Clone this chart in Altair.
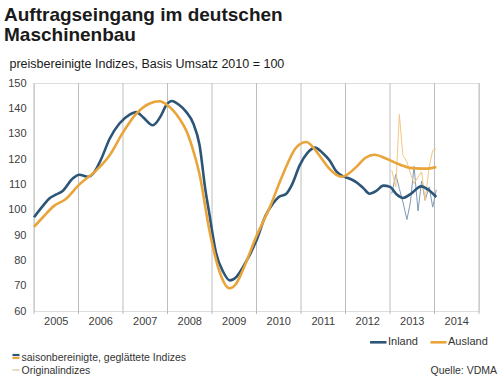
import altair as alt
import pandas as pd

# ---- data ----
inland_t = [2005.0, 2005.2, 2005.35, 2005.5, 2005.65, 2005.87, 2006.02, 2006.21, 2006.36, 2006.51,
            2006.7, 2006.92, 2007.15, 2007.3, 2007.45, 2007.67, 2007.85, 2007.97, 2008.1, 2008.25,
            2008.42, 2008.58, 2008.72, 2008.85, 2008.94, 2009.09, 2009.25, 2009.4, 2009.55, 2009.7,
            2010.0, 2010.2, 2010.37, 2010.5, 2010.67, 2010.8, 2010.97, 2011.15, 2011.31, 2011.48,
            2011.64, 2011.8, 2011.94, 2012.1, 2012.24, 2012.4, 2012.54, 2012.7, 2012.85, 2013.0,
            2013.15, 2013.29, 2013.45, 2013.7, 2013.85, 2014.04]
inland_v = [97.0, 101.5, 104.5, 106.0, 107.5, 112.3, 113.8, 113.0, 115.0, 120.0,
            128.0, 134.0, 137.5, 138.5, 136.5, 133.3, 137.0, 141.2, 142.9, 141.5,
            138.6, 134.0, 125.5, 108.0, 98.4, 83.0, 75.5, 72.1, 73.5, 77.4,
            87.9, 97.5, 102.4, 105.0, 106.3, 110.0, 117.5, 122.5, 124.5, 122.5,
            119.5, 115.0, 113.2, 112.2, 110.9, 108.5, 106.3, 107.5, 109.5, 109.0,
            106.0, 104.6, 106.0, 109.2, 108.0, 105.0]

ausland_t = [2005.0, 2005.2, 2005.45, 2005.7, 2006.02, 2006.4, 2006.7, 2007.0, 2007.3, 2007.6,
             2007.82, 2008.0, 2008.27, 2008.42, 2008.55, 2008.72, 2008.94, 2009.17, 2009.39, 2009.55,
             2009.69, 2009.99, 2010.3, 2010.6, 2010.89, 2011.12, 2011.3, 2011.45, 2011.62, 2011.92,
             2012.24, 2012.45, 2012.65, 2012.91, 2013.2, 2013.45, 2013.7, 2013.85, 2014.04]
ausland_v = [93.2, 97.0, 101.5, 104.0, 110.0, 115.5, 121.5, 130.5, 137.9, 141.9,
             142.8, 141.2, 135.9, 131.3, 125.0, 114.0, 92.0, 75.5, 69.0, 71.0,
             76.0, 89.2, 101.0, 114.2, 124.5, 126.7, 124.0, 120.5, 116.5, 113.0,
             116.8, 120.5, 121.7, 120.2, 117.9, 116.5, 116.2, 116.2, 116.8]

orig_t = [2013.04, 2013.13, 2013.21, 2013.29, 2013.38, 2013.46, 2013.54, 2013.63, 2013.71,
          2013.79, 2013.88, 2013.96, 2014.04]
orig_inland = [106.3, 113.9, 108.3, 103.0, 96.1, 103.0, 117.1, 99.5, 111.3, 103.7, 109.0, 101.0, 107.9]
orig_ausland = [115.5, 109.0, 137.6, 121.5, 118.8, 114.2, 110.3, 112.9, 114.9, 103.7, 116.8, 123.4, 124.1]

years = [2005, 2006, 2007, 2008, 2009, 2010, 2011, 2012, 2013, 2014]
year_bounds = [2005, 2006, 2007, 2008, 2009, 2010, 2011, 2012, 2013, 2014, 2015]
y_ticks = [60, 70, 80, 90, 100, 110, 120, 130, 140, 150]

BLUE = "#2c5577"
ORANGE = "#e9a43a"
BLUE_L = "#7f9ab5"
ORANGE_L = "#f3c783"
FONT = "Liberation Sans"

yr = pd.DataFrame({"y": years, "mid": [y + 0.5 for y in years]})
yb = pd.DataFrame({"y": year_bounds})

xs = alt.Scale(domain=[2005, 2015], nice=False, zero=False)
ys = alt.Scale(domain=[60, 150], nice=False, zero=False)
yax = alt.Axis(values=y_ticks, domain=False, ticks=False, grid=False, labelOverlap=False,
               labelFont=FONT, labelFontSize=11, labelColor="#404040", labelPadding=8)

grid = alt.Chart(yb).mark_rule(color="#bdbdbd", strokeWidth=1).encode(
    x=alt.X("y:Q", scale=xs, axis=None),
    y=alt.value(0), y2=alt.value(231))

year_lbl = alt.Chart(yr).mark_text(font=FONT, fontSize=11, color="#404040", baseline="middle").encode(
    x=alt.X("mid:Q", scale=xs, axis=None),
    y=alt.value(239), text=alt.Text("y:N"))


def line(t, v, color, width, interp="linear"):
    df = pd.DataFrame({"t": t, "v": v})
    return alt.Chart(df).mark_line(strokeWidth=width, color=color, interpolate=interp).encode(
        x=alt.X("t:Q", scale=xs, axis=None),
        y=alt.Y("v:Q", scale=ys, title=None, axis=yax))


thin_in = line(orig_t, orig_inland, BLUE_L, 1)
thin_au = line(orig_t, orig_ausland, ORANGE_L, 1)
thick_in = line(inland_t, inland_v, BLUE, 2.6, "monotone")
thick_au = line(ausland_t, ausland_v, ORANGE, 2.6, "monotone")

one = pd.DataFrame({"a": [0]})


def txt(s, x, y, size=11, weight="normal", align="left", baseline="middle", color="#333333"):
    return alt.Chart(one).mark_text(text=s, font=FONT, fontSize=size, fontWeight=weight,
                                    align=align, baseline=baseline, color=color).encode(
        x=alt.value(x), y=alt.value(y))


def seg(x1, x2, y, color, w):
    return alt.Chart(one).mark_rule(color=color, strokeWidth=w).encode(
        x=alt.value(x1), x2=alt.value(x2), y=alt.value(y))


annot = [
    txt("Auftragseingang im deutschen", -30, -62.5, size=19, weight="bold", baseline="alphabetic", color="#1a1a1a"),
    txt("Maschinenbau", -30, -42.5, size=19, weight="bold", baseline="alphabetic", color="#1a1a1a"),
    txt("preisbereinigte Indizes, Basis Umsatz 2010 = 100", -24.5, -14.8, size=12.5, baseline="alphabetic", color="#1a1a1a"),
    seg(336, 352.5, 259.3, BLUE, 2.6),
    txt("Inland", 354, 259.3, size=11),
    seg(396.5, 412.5, 259.3, ORANGE, 2.6),
    txt("Ausland", 414, 259.3, size=11),
    seg(-21.5, -14.5, 272, BLUE, 2.2),
    seg(-21.5, -14.5, 275, ORANGE, 2.2),
    txt("saisonbereinigte, geglättete Indizes", -12.5, 274.5, size=10.5),
    seg(-21.5, -14.5, 287, "#e6d9c6", 2),
    txt("Originalindizes", -12.5, 287.5, size=10.5),
    txt("Quelle: VDMA", 463, 287.8, size=10.5, align="right"),
]

chart = alt.layer(grid, year_lbl, thin_in, thin_au, thick_in, thick_au, *annot).properties(
    width=445, height=228,
    padding={"left": 34, "top": 83, "right": 21, "bottom": 66},
    autosize="none",
).configure_view(stroke=None).configure(background="white")

chart.save("out.html", embed_options={"renderer": "svg", "actions": False})
